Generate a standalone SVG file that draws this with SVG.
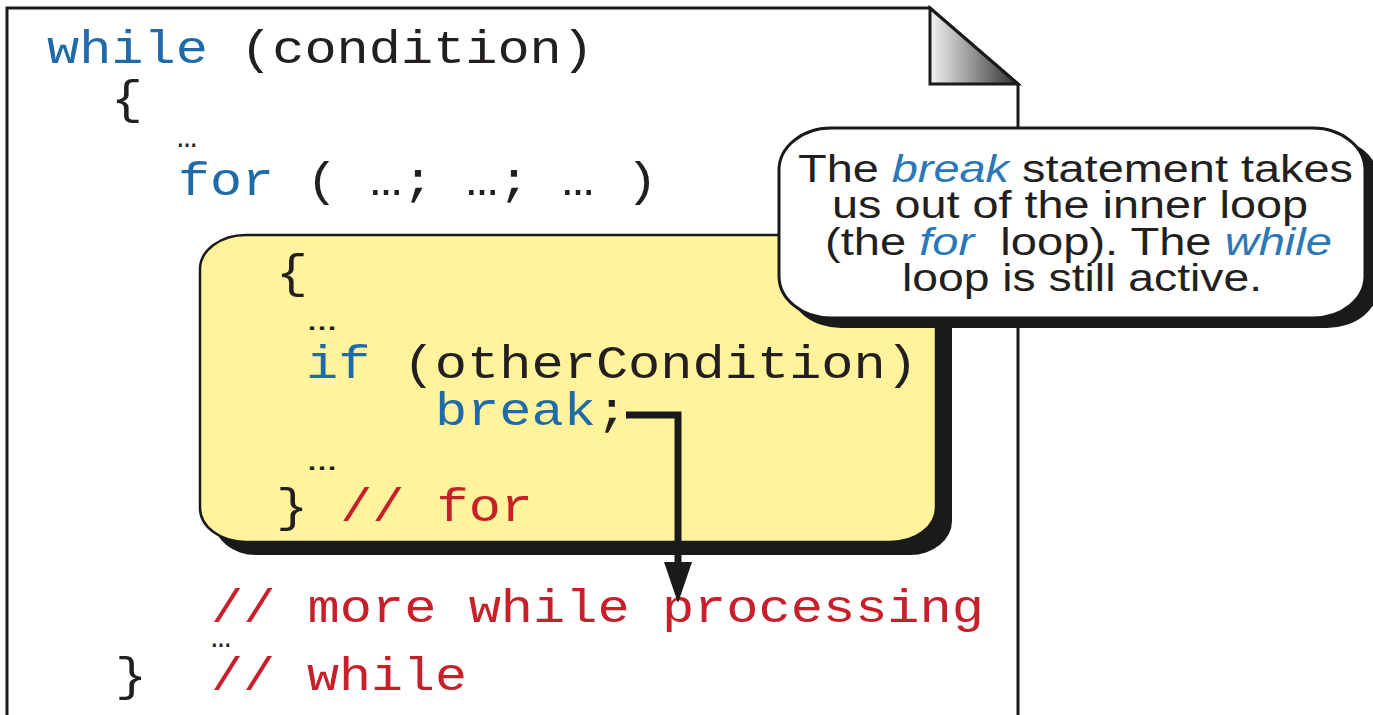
<svg xmlns="http://www.w3.org/2000/svg" width="1373" height="715" viewBox="0 0 1373 715">
  <style>
    .code { font-family: "Liberation Mono", "Courier New", monospace; font-size: 46px; fill: #231f20; white-space: pre; }
    .dots { font-family: "Liberation Mono", "Courier New", monospace; font-size: 34px; fill: #231f20; }
    .kw { fill: #1f6aa8; }
    .cm { fill: #c8202a; }
    .note { font-family: "Liberation Sans", Arial, Helvetica, sans-serif; font-size: 38px; fill: #231f20; white-space: pre; }
    .em { fill: #2b78b8; font-style: italic; }
  </style>
  <defs>
    <linearGradient id="foldShade" x1="930" y1="0" x2="1018" y2="0" gradientUnits="userSpaceOnUse">
      <stop offset="0" stop-color="#f4f4f4"/>
      <stop offset="1" stop-color="#2e2e2e"/>
    </linearGradient>
  </defs>

  <rect width="1373" height="715" fill="#ffffff"/>

  <!-- code page with dog-eared corner -->
  <g id="page">
    <path d="M7,720 V8 H930 L1018,84 V720" fill="#ffffff" stroke="#1a1a1a" stroke-width="3" stroke-linejoin="miter"/>
    <path d="M930,8 V84 H1018 Z" fill="url(#foldShade)" stroke="#1a1a1a" stroke-width="3" stroke-linejoin="miter"/>
  </g>

  <!-- outer while loop -->
  <g id="while-loop" class="code">
    <text xml:space="preserve" x="47" y="63" textLength="547" lengthAdjust="spacingAndGlyphs"><tspan class="kw">while</tspan> (condition)</text>
    <text x="111" y="113" textLength="32" lengthAdjust="spacingAndGlyphs">{</text>
    <text class="dots" x="177" y="147" textLength="20" lengthAdjust="spacingAndGlyphs">…</text>
    <text xml:space="preserve" x="178" y="195" textLength="480" lengthAdjust="spacingAndGlyphs"><tspan class="kw">for</tspan> ( …; …; … )</text>
  </g>

  <!-- inner for-loop body -->
  <g id="for-body">
    <rect x="214" y="247" width="738" height="308" rx="42" ry="34" fill="#1a1a1a"/>
    <rect x="200" y="235" width="736" height="307" rx="46" ry="34" fill="#fff39b" stroke="#1a1a1a" stroke-width="2.5"/>
    <g class="code">
      <text x="276" y="287" textLength="32" lengthAdjust="spacingAndGlyphs">{</text>
      <text class="dots" x="307" y="330" textLength="30" lengthAdjust="spacingAndGlyphs">…</text>
      <text xml:space="preserve" x="306" y="378" textLength="612" lengthAdjust="spacingAndGlyphs"><tspan class="kw">if</tspan> (otherCondition)</text>
      <text x="435" y="425" textLength="193" lengthAdjust="spacingAndGlyphs"><tspan class="kw">break</tspan>;</text>
      <text class="dots" x="307" y="470" textLength="30" lengthAdjust="spacingAndGlyphs">…</text>
      <text xml:space="preserve" x="276" y="521" textLength="257" lengthAdjust="spacingAndGlyphs">} <tspan class="cm">// for</tspan></text>
    </g>
  </g>

  <!-- remainder of the while body -->
  <g id="while-tail" class="code">
    <text xml:space="preserve" x="211" y="622" textLength="773" lengthAdjust="spacingAndGlyphs" class="cm">// more while processing</text>
    <text class="dots" x="211" y="647" textLength="20" lengthAdjust="spacingAndGlyphs">…</text>
    <text xml:space="preserve" x="115" y="690" textLength="352" lengthAdjust="spacingAndGlyphs">}  <tspan class="cm">// while</tspan></text>
  </g>

  <!-- break jumps past the end of the for loop -->
  <g id="connectors">
    <polyline points="626,415 678,415 678,566" fill="none" stroke="#1a1a1a" stroke-width="7" stroke-linejoin="miter"/>
    <polygon points="664,562 692,562 678,603" fill="#1a1a1a"/>
  </g>

  <!-- explanatory callout -->
  <g id="callout">
    <rect x="789" y="138" width="590" height="190" rx="52" ry="42" fill="#1a1a1a"/>
    <rect x="779" y="128" width="586" height="190" rx="52" ry="42" fill="#ffffff" stroke="#1a1a1a" stroke-width="3"/>
    <g class="note">
      <text xml:space="preserve" x="798" y="182" textLength="555" lengthAdjust="spacingAndGlyphs">The <tspan class="em">break</tspan> statement takes</text>
      <text xml:space="preserve" x="832" y="218" textLength="476" lengthAdjust="spacingAndGlyphs">us out of the inner loop</text>
      <text xml:space="preserve" x="825" y="255" textLength="507" lengthAdjust="spacingAndGlyphs">(the <tspan class="em">for</tspan>  loop). The <tspan class="em">while</tspan></text>
      <text xml:space="preserve" x="902" y="291" textLength="360" lengthAdjust="spacingAndGlyphs">loop is still active.</text>
    </g>
  </g>
</svg>
